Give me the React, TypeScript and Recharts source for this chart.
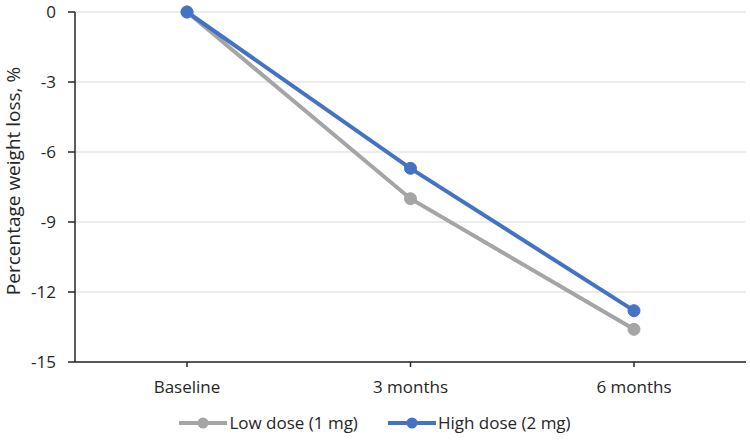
import React from "react";
import { LineChart, Line, XAxis, YAxis, CartesianGrid, Legend } from "recharts";

const categories = ["Baseline", "3 months", "6 months"];
const lowDose = [0, -8.0, -13.6];
const highDose = [0, -6.7, -12.8];
const yTicks = [0, -3, -6, -9, -12, -15];
const seriesOrder = ["low", "high"];

const data = categories.map((c, i) => ({ name: c, low: lowDose[i], high: highDose[i] }));

const GRAY = "#a5a5a5";
const BLUE = "#4472c4";
const FONT = "'Open Sans', sans-serif";
const TEXT = "#262626";

const renderLegend = (props: any) => {
  const payload = [...(props.payload || [])].sort(
    (a: any, b: any) => seriesOrder.indexOf(a.dataKey) - seriesOrder.indexOf(b.dataKey)
  );
  return (
    <div style={{ display: "flex", justifyContent: "center", alignItems: "center", fontFamily: FONT, fontSize: 17, color: TEXT }}>
      {payload.map((entry: any, i: number) => (
        <div key={i} style={{ display: "flex", alignItems: "center", marginRight: i === 0 ? 30 : 0 }}>
          <svg width={48} height={14} style={{ marginRight: 2 }}>
            <line x1={0} y1={7} x2={48} y2={7} stroke={entry.color} strokeWidth={4} />
            <circle cx={24} cy={7} r={5.5} fill={entry.color} />
          </svg>
          <span>{entry.value}</span>
        </div>
      ))}
    </div>
  );
};

export default function App() {
  return (
    <div style={{ position: "absolute", left: 0, top: 0, width: 750, height: 444, background: "#fff" }}>
      <LineChart width={750} height={444} data={data} margin={{ top: 12, right: 4, left: 0, bottom: 52 }}>
        <CartesianGrid vertical={false} stroke="#d9d9d9" strokeWidth={1} />
        <XAxis
          dataKey="name"
          height={30}
          padding={{ left: 112, right: 112 }}
          stroke={TEXT}
          strokeWidth={1.5}
          tickSize={5}
          tickMargin={14}
          fontSize={17}
          fontFamily={FONT}
          tick={{ fill: TEXT, fontSize: 17, fontFamily: FONT }}
        />
        <YAxis
          width={75}
          domain={[-15, 0]}
          ticks={yTicks}
          interval={0}
          stroke={TEXT}
          strokeWidth={1.5}
          tickSize={7}
          tickMargin={12}
          fontSize={17}
          fontFamily={FONT}
          tick={{ fill: TEXT, fontSize: 17, fontFamily: FONT }}
          label={{
            value: "Percentage weight loss, %",
            angle: -90,
            position: "insideLeft",
            offset: 13,
            dy: -6,
            fontSize: 19,
            fontFamily: FONT,
            fill: TEXT,
            style: { textAnchor: "middle", fill: TEXT, fontSize: 19, fontFamily: FONT },
          }}
        />
        <Legend verticalAlign="middle" align="center" content={renderLegend} wrapperStyle={{ top: 411, left: 0, width: 750 }} />
        <Line
          type="linear"
          dataKey="low"
          name="Low dose (1 mg)"
          stroke={GRAY}
          strokeWidth={4}
          dot={{ r: 6, fill: GRAY, stroke: GRAY, strokeWidth: 1 }}
          isAnimationActive={false}
        />
        <Line
          type="linear"
          dataKey="high"
          name="High dose (2 mg)"
          stroke={BLUE}
          strokeWidth={4}
          dot={{ r: 6, fill: BLUE, stroke: BLUE, strokeWidth: 1 }}
          isAnimationActive={false}
        />
      </LineChart>
    </div>
  );
}
